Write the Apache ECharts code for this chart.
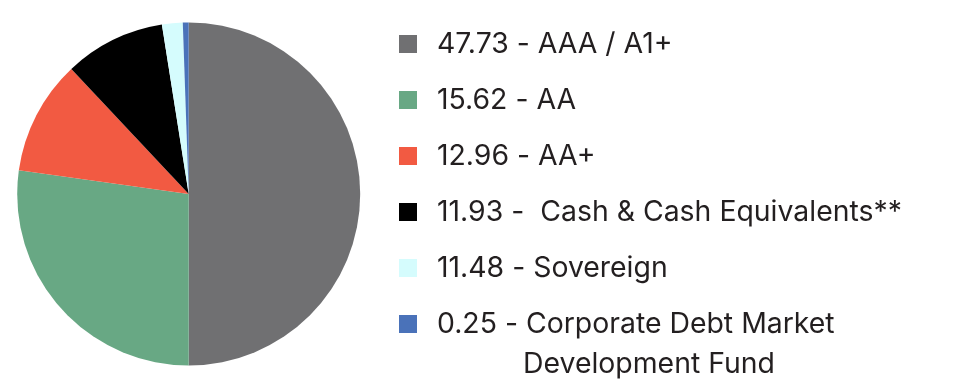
<!DOCTYPE html>
<html><head><meta charset="utf-8">
<script src="https://cdn.jsdelivr.net/npm/echarts@6/dist/echarts.min.js"></script>
<style>html,body{margin:0;padding:0;background:#fff}#c{width:954px;height:386px}</style></head>
<body><div id="c"></div>
<script>
// Categories and the figures printed in the legend
const categories = ['AAA / A1+', 'AA', 'AA+', ' Cash & Cash Equivalents**', 'Sovereign', 'Corporate Debt Market Development Fund'];
const legendValues = ['47.73', '15.62', '12.96', '11.93', '11.48', '0.25'];
// Slice sizes as drawn in the pie (% of circle)
const sliceValues = [50.0, 27.2, 10.8, 9.5, 1.95, 0.55];
const colors = ['#707072', '#68a884', '#f25a42', '#000000', '#d5fcfd', '#4a72b9'];

const chart = echarts.init(document.getElementById('c'), null, {renderer: 'canvas'});
const FONT = 'Inter';
const seriesData = categories.map((n, i) => ({name: n, value: sliceValues[i], itemStyle: {color: colors[i]}}));
chart.setOption({
  animation: false,
  legend: {
    orient: 'vertical',
    left: 399, top: 30, height: 356,
    padding: 0,
    itemWidth: 18, itemHeight: 18, itemGap: 28,
    icon: 'rect',
    selectedMode: false,
    data: categories,
    formatter: function (name) {
      const i = categories.indexOf(name);
      const label = i === 5 ? 'Corporate Debt Market' : categories[i];
      return legendValues[i] + ' - ' + label;
    },
    textStyle: {fontFamily: FONT, fontSize: 28.4, color: '#231f20', padding: [0, 0, 0, 15]}
  },
  graphic: [{
    type: 'text', left: 523, top: 350,
    style: {text: 'Development Fund', font: '28.4px Inter', fill: '#231f20'}
  }],
  series: [{
    type: 'pie',
    center: [188.7, 194],
    radius: 171.5,
    startAngle: 90,
    clockwise: true,
    label: {show: false}, labelLine: {show: false},
    emphasis: {disabled: true},
    silent: true,
    itemStyle: {borderWidth: 0},
    data: seriesData
  }]
});
</script></body></html>
